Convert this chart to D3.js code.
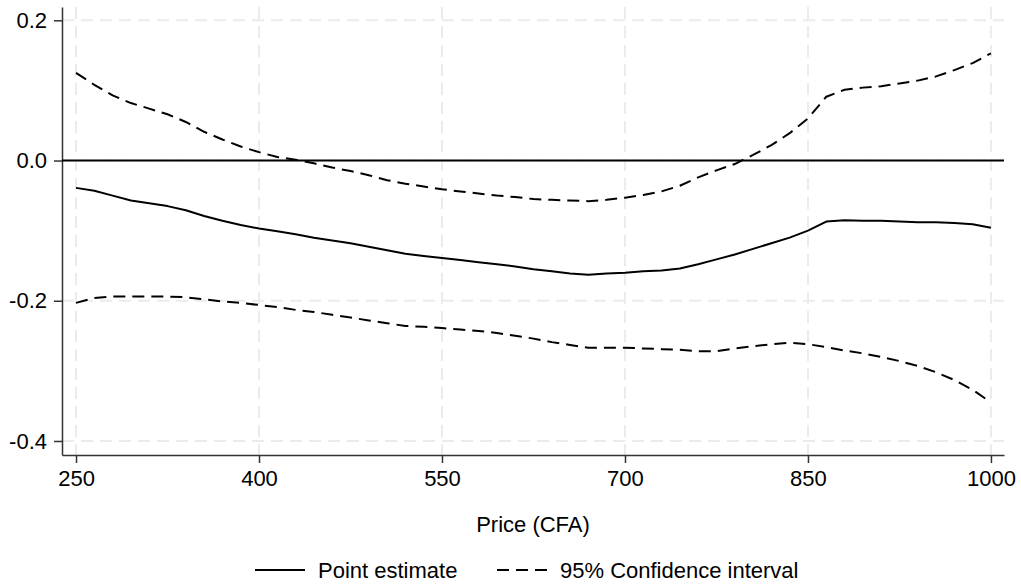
<!DOCTYPE html>
<html>
<head>
<meta charset="utf-8">
<script src="https://cdn.jsdelivr.net/npm/d3@7"></script>
<style>
  body { margin: 0; background: #fff; }
  text { font-family: "Liberation Sans", Arial, Helvetica, sans-serif; }
</style>
</head>
<body>
<svg id="chart" width="1021" height="586"></svg>
<script>
//
// Data
//

// price grid (CFA)
var prices = [250, 265, 280, 295, 310, 325, 340, 355, 370, 385,
  400, 415, 430, 445, 460, 475, 490, 505, 520, 535,
  550, 565, 580, 595, 610, 625, 640, 655, 670, 685,
  700, 715, 730, 745, 760, 775, 790, 805, 820, 835,
  850, 865, 880, 895, 910, 925, 940, 955, 970, 985, 1000]
// point estimate
var estimate = [-0.039, -0.043, -0.050, -0.057, -0.061, -0.065, -0.071, -0.079, -0.086, -0.092,
  -0.097, -0.101, -0.105, -0.110, -0.114, -0.118, -0.123, -0.128, -0.133, -0.136,
  -0.139, -0.142, -0.145, -0.148, -0.151, -0.155, -0.158, -0.161, -0.163, -0.161,
  -0.160, -0.158, -0.157, -0.154, -0.148, -0.141, -0.134, -0.126, -0.118, -0.110,
  -0.100, -0.087, -0.085, -0.086, -0.086, -0.087, -0.088, -0.088, -0.089, -0.091, -0.096]
// 95% CI lower bound
var lower = [-0.203, -0.196, -0.194, -0.194, -0.194, -0.194, -0.195, -0.198, -0.201, -0.203,
  -0.206, -0.209, -0.213, -0.216, -0.220, -0.224, -0.228, -0.232, -0.236, -0.237,
  -0.239, -0.241, -0.243, -0.246, -0.250, -0.254, -0.259, -0.263, -0.267, -0.267,
  -0.267, -0.268, -0.269, -0.270, -0.272, -0.272, -0.268, -0.265, -0.262, -0.260,
  -0.262, -0.266, -0.271, -0.275, -0.280, -0.286, -0.293, -0.302, -0.313, -0.327, -0.345]
// 95% CI upper bound
var upper = [0.125, 0.108, 0.093, 0.082, 0.074, 0.066, 0.055, 0.041, 0.030, 0.020,
  0.012, 0.005, 0.001, -0.004, -0.010, -0.015, -0.021, -0.028, -0.033, -0.037,
  -0.041, -0.044, -0.047, -0.050, -0.052, -0.055, -0.056, -0.057, -0.058, -0.056,
  -0.053, -0.049, -0.044, -0.036, -0.024, -0.014, -0.005, 0.008, 0.022, 0.039,
  0.060, 0.091, 0.101, 0.104, 0.106, 0.110, 0.114, 0.120, 0.129, 0.139, 0.153]

var xTicks = [250, 400, 550, 700, 850, 1000]
var yTicks = [0.2, 0.0, -0.2, -0.4]
var xTitle = 'Price (CFA)'
var legendLabels = ['Point estimate', '95% Confidence interval']

//
// Setup
//

var fontSize = 22
var dash = '12,7'
var svg = d3.select('#chart')

var x = d3.scaleLinear().domain([238.5, 1010.7]).range([62, 1004])
var y = d3.scaleLinear().domain([-0.42, 0.219]).range([455, 7])

// gridlines
var grid = svg.append('g')
  .attr('stroke', '#ebebeb')
  .attr('stroke-width', 2)
  .attr('stroke-dasharray', dash)
grid.selectAll('.vg').data(xTicks).enter().append('line')
  .attr('x1', d => x(d)).attr('x2', d => x(d))
  .attr('y1', y.range()[1]).attr('y2', y.range()[0])
grid.selectAll('.hg').data(yTicks).enter().append('line')
  .attr('x1', x.range()[0]).attr('x2', x.range()[1])
  .attr('y1', d => y(d)).attr('y2', d => y(d))

// axes
function styleAxis(g) {
  g.select('.domain').attr('stroke', '#333').attr('stroke-width', 1.5)
  g.selectAll('.tick line').attr('stroke', '#333').attr('stroke-width', 1.5)
  g.selectAll('.tick text').attr('fill', '#000').style('font-size', fontSize + 'px')
    .style('font-family', '"Liberation Sans", Arial, Helvetica, sans-serif')
}

svg.append('g')
  .attr('transform', 'translate(0,' + y.range()[0] + ')')
  .call(d3.axisBottom(x).tickValues(xTicks).tickSize(8).tickSizeOuter(0).tickPadding(7)
    .tickFormat(d3.format('d')))
  .call(styleAxis)

svg.append('g')
  .attr('transform', 'translate(' + x.range()[0] + ',0)')
  .call(d3.axisLeft(y).tickValues(yTicks).tickSize(8).tickSizeOuter(0).tickPadding(7)
    .tickFormat(d3.format('.1f')))
  .call(styleAxis)
  .selectAll('.tick text').text(d => d3.format('.1f')(d).replace('−', '-'))

// zero reference line
svg.append('line')
  .attr('x1', x.range()[0]).attr('x2', x.range()[1])
  .attr('y1', y(0)).attr('y2', y(0))
  .attr('stroke', '#000').attr('stroke-width', 2)

// series
var line = d3.line()
  .x((d, i) => x(prices[i]))
  .y(d => y(d))

function drawSeries(values, dashed) {
  svg.append('path')
    .datum(values)
    .attr('d', line)
    .attr('fill', 'none')
    .attr('stroke', '#000')
    .attr('stroke-width', 2)
    .attr('stroke-linejoin', 'round')
    .attr('stroke-dasharray', dashed ? dash : null)
}

drawSeries(upper, true)
drawSeries(lower, true)
drawSeries(estimate, false)

// axis title
svg.append('text')
  .attr('x', (x.range()[0] + x.range()[1]) / 2)
  .attr('y', 532)
  .attr('text-anchor', 'middle')
  .style('font-size', fontSize + 'px')
  .text(xTitle)

// legend
var legend = svg.append('g')
var items = [
  { label: legendLabels[0], x0: 255, dashed: false },
  { label: legendLabels[1], x0: 497, dashed: true }
]
items.forEach(function(it) {
  legend.append('line')
    .attr('x1', it.x0).attr('x2', it.x0 + 50)
    .attr('y1', 570).attr('y2', 570)
    .attr('stroke', '#000').attr('stroke-width', 2)
    .attr('stroke-dasharray', it.dashed ? '12,7' : null)
  legend.append('text')
    .attr('x', it.x0 + 63)
    .attr('y', 578)
    .style('font-size', fontSize + 'px')
    .text(it.label)
})
</script>
</body>
</html>
